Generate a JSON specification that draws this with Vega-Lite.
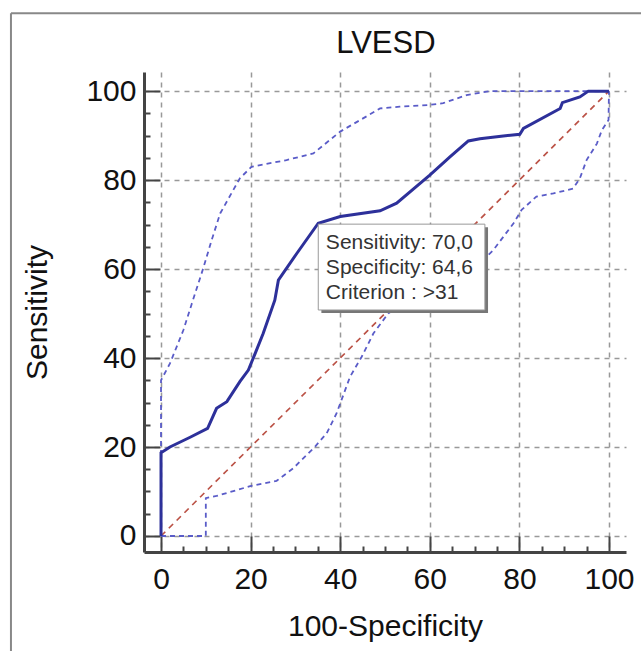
{
  "$schema": "https://vega.github.io/schema/vega-lite/v6.json",
  "autosize": "none",
  "width": 482,
  "height": 480,
  "padding": {"left": 144, "top": 72, "right": 15, "bottom": 99},
  "background": "white",
  "datasets": {
    "roc": [
      {"i": 0, "fpr": 0, "sens": 0},
      {"i": 1, "fpr": 0, "sens": 18.7},
      {"i": 2, "fpr": 2.0, "sens": 20.0},
      {"i": 3, "fpr": 6.5, "sens": 22.2},
      {"i": 4, "fpr": 10.4, "sens": 24.2},
      {"i": 5, "fpr": 12.4, "sens": 28.7},
      {"i": 6, "fpr": 14.7, "sens": 30.2},
      {"i": 7, "fpr": 17.6, "sens": 34.7},
      {"i": 8, "fpr": 19.5, "sens": 37.3},
      {"i": 9, "fpr": 21.0, "sens": 41.0},
      {"i": 10, "fpr": 22.8, "sens": 45.5},
      {"i": 11, "fpr": 25.4, "sens": 53.0},
      {"i": 12, "fpr": 26.2, "sens": 57.5},
      {"i": 13, "fpr": 30.3, "sens": 63.5},
      {"i": 14, "fpr": 35.1, "sens": 70.3},
      {"i": 15, "fpr": 40.0, "sens": 71.8},
      {"i": 16, "fpr": 48.9, "sens": 73.1},
      {"i": 17, "fpr": 52.6, "sens": 74.8},
      {"i": 18, "fpr": 60.0, "sens": 81.1},
      {"i": 19, "fpr": 64.5, "sens": 85.2},
      {"i": 20, "fpr": 68.6, "sens": 88.8},
      {"i": 21, "fpr": 71.2, "sens": 89.3},
      {"i": 22, "fpr": 76.4, "sens": 89.9},
      {"i": 23, "fpr": 80.1, "sens": 90.3},
      {"i": 24, "fpr": 80.9, "sens": 91.6},
      {"i": 25, "fpr": 89.1, "sens": 96.1},
      {"i": 26, "fpr": 89.6, "sens": 97.4},
      {"i": 27, "fpr": 93.5, "sens": 98.7},
      {"i": 28, "fpr": 95.4, "sens": 100},
      {"i": 29, "fpr": 100, "sens": 100}
    ],
    "upper": [
      {"i": 0, "fpr": 0, "sens": 0},
      {"i": 1, "fpr": 0, "sens": 35.0},
      {"i": 2, "fpr": 2.0, "sens": 38.8},
      {"i": 3, "fpr": 5.0, "sens": 46.3},
      {"i": 4, "fpr": 6.8, "sens": 52.0},
      {"i": 5, "fpr": 9.4, "sens": 60.1},
      {"i": 6, "fpr": 11.3, "sens": 66.5},
      {"i": 7, "fpr": 13.2, "sens": 72.5},
      {"i": 8, "fpr": 17.6, "sens": 80.4},
      {"i": 9, "fpr": 20.2, "sens": 83.0},
      {"i": 10, "fpr": 28.0, "sens": 84.5},
      {"i": 11, "fpr": 34.0, "sens": 86.0},
      {"i": 12, "fpr": 40.0, "sens": 90.9},
      {"i": 13, "fpr": 48.9, "sens": 96.1},
      {"i": 14, "fpr": 53.3, "sens": 96.5},
      {"i": 15, "fpr": 60.0, "sens": 96.9},
      {"i": 16, "fpr": 63.0, "sens": 97.3},
      {"i": 17, "fpr": 68.2, "sens": 99.1},
      {"i": 18, "fpr": 73.4, "sens": 100},
      {"i": 19, "fpr": 100, "sens": 100}
    ],
    "lower": [
      {"i": 0, "fpr": 0, "sens": 0},
      {"i": 1, "fpr": 10.0, "sens": 0},
      {"i": 2, "fpr": 10.0, "sens": 8.5},
      {"i": 3, "fpr": 12.4, "sens": 9.0},
      {"i": 4, "fpr": 19.9, "sens": 11.2},
      {"i": 5, "fpr": 25.8, "sens": 12.4},
      {"i": 6, "fpr": 29.5, "sens": 15.2},
      {"i": 7, "fpr": 34.4, "sens": 20.1},
      {"i": 8, "fpr": 37.0, "sens": 23.1},
      {"i": 9, "fpr": 39.2, "sens": 27.6},
      {"i": 10, "fpr": 40.3, "sens": 30.6},
      {"i": 11, "fpr": 42.2, "sens": 35.8},
      {"i": 12, "fpr": 44.8, "sens": 40.3},
      {"i": 13, "fpr": 47.4, "sens": 45.5},
      {"i": 14, "fpr": 50.7, "sens": 50.0},
      {"i": 15, "fpr": 56.0, "sens": 53.5},
      {"i": 16, "fpr": 62.0, "sens": 56.5},
      {"i": 17, "fpr": 68.0, "sens": 59.5},
      {"i": 18, "fpr": 72.7, "sens": 62.8},
      {"i": 19, "fpr": 74.2, "sens": 64.3},
      {"i": 20, "fpr": 78.7, "sens": 70.3},
      {"i": 21, "fpr": 80.5, "sens": 73.3},
      {"i": 22, "fpr": 83.8, "sens": 76.3},
      {"i": 23, "fpr": 87.6, "sens": 77.0},
      {"i": 24, "fpr": 92.0, "sens": 78.1},
      {"i": 25, "fpr": 93.5, "sens": 80.4},
      {"i": 26, "fpr": 95.0, "sens": 84.5},
      {"i": 27, "fpr": 97.3, "sens": 88.2},
      {"i": 28, "fpr": 98.4, "sens": 91.2},
      {"i": 29, "fpr": 99.9, "sens": 93.5},
      {"i": 30, "fpr": 100, "sens": 100}
    ]
  },
  "encoding": {
    "x": {
      "type": "quantitative",
      "scale": {"domain": [-3.8, 103.8], "nice": false, "zero": false},
      "axis": {
        "title": "100-Specificity",
        "values": [0, 5, 10, 15, 20, 25, 30, 35, 40, 45, 50, 55, 60, 65, 70, 75, 80, 85, 90, 95, 100],
        "labelExpr": "datum.value % 20 === 0 ? datum.label : ''",
        "labelFont": "Liberation Sans",
        "labelFontSize": 30,
        "labelColor": "#111",
        "labelPadding": 28,
        "labelFlush": false,
        "labelOverlap": false,
        "domainColor": "#444",
        "domainWidth": 3,
        "tickColor": "#444",
        "tickWidth": 2,
        "tickSize": {"condition": {"test": "datum.value % 20 === 0", "value": -16}, "value": -6},
        "grid": true,
        "gridColor": "#999",
        "gridDash": [5, 5],
        "gridWidth": 1.5,
        "gridOpacity": {"condition": {"test": "datum.value % 20 === 0", "value": 1}, "value": 0},
        "titleFont": "Liberation Sans",
        "titleFontSize": 30,
        "titleFontWeight": "normal",
        "titleColor": "#111",
        "titlePadding": 7
      }
    },
    "y": {
      "type": "quantitative",
      "scale": {"domain": [-3.6, 104.3], "nice": false, "zero": false},
      "axis": {
        "title": "Sensitivity",
        "values": [0, 5, 10, 15, 20, 25, 30, 35, 40, 45, 50, 55, 60, 65, 70, 75, 80, 85, 90, 95, 100],
        "labelExpr": "datum.value % 20 === 0 ? datum.label : ''",
        "labelFont": "Liberation Sans",
        "labelFontSize": 30,
        "labelColor": "#111",
        "labelPadding": 24,
        "labelFlush": false,
        "labelOverlap": false,
        "domainColor": "#444",
        "domainWidth": 3,
        "tickColor": "#444",
        "tickWidth": 2,
        "tickSize": {"condition": {"test": "datum.value % 20 === 0", "value": -16}, "value": -6},
        "grid": true,
        "gridColor": "#999",
        "gridDash": [5, 5],
        "gridWidth": 1.5,
        "gridOpacity": {"condition": {"test": "datum.value % 20 === 0", "value": 1}, "value": 0},
        "titleFont": "Liberation Sans",
        "titleFontSize": 30,
        "titleFontWeight": "normal",
        "titleColor": "#111",
        "titlePadding": 33
      }
    }
  },
  "layer": [
    {
      "data": {"values": [{"x": -33.5, "y": -30, "x2": -33.5, "y2": 117.5}, {"x": -33.5, "y": 117.5, "x2": 130, "y2": 117.5}]},
      "mark": {"type": "rule", "color": "#888", "strokeWidth": 2},
      "encoding": {
        "x": {"field": "x", "type": "quantitative"},
        "x2": {"field": "x2"},
        "y": {"field": "y", "type": "quantitative"},
        "y2": {"field": "y2"}
      }
    },
    {
      "data": {"values": [{"x": 50.2, "y": 110.6, "label": "LVESD"}]},
      "mark": {"type": "text", "align": "center", "baseline": "middle", "font": "Liberation Sans", "fontSize": 31, "color": "#111"},
      "encoding": {
        "x": {"field": "x", "type": "quantitative"},
        "y": {"field": "y", "type": "quantitative"},
        "text": {"field": "label"}
      }
    },
    {
      "data": {"values": [{"x": 0, "y": 0, "x2": 100, "y2": 100}]},
      "mark": {"type": "rule", "color": "#bb5246", "strokeWidth": 1.7, "strokeDash": [6, 5]},
      "encoding": {
        "x": {"field": "x", "type": "quantitative"},
        "x2": {"field": "x2"},
        "y": {"field": "y", "type": "quantitative"},
        "y2": {"field": "y2"}
      }
    },
    {
      "data": {"name": "upper"},
      "mark": {"type": "line", "color": "#5a5cc8", "strokeWidth": 1.8, "strokeDash": [5, 4]},
      "encoding": {
        "x": {"field": "fpr", "type": "quantitative"},
        "y": {"field": "sens", "type": "quantitative"},
        "order": {"field": "i"}
      }
    },
    {
      "data": {"name": "lower"},
      "mark": {"type": "line", "color": "#5a5cc8", "strokeWidth": 1.8, "strokeDash": [5, 4]},
      "encoding": {
        "x": {"field": "fpr", "type": "quantitative"},
        "y": {"field": "sens", "type": "quantitative"},
        "order": {"field": "i"}
      }
    },
    {
      "data": {"name": "roc"},
      "mark": {"type": "line", "color": "#2d309a", "strokeWidth": 3},
      "encoding": {
        "x": {"field": "fpr", "type": "quantitative"},
        "y": {"field": "sens", "type": "quantitative"},
        "order": {"field": "i"}
      }
    },
    {
      "data": {"values": [{"x": 35.8, "x2": 73.0, "y": 69.4, "y2": 50.1}]},
      "mark": {"type": "rect", "color": "#777"},
      "encoding": {
        "x": {"field": "x", "type": "quantitative"},
        "x2": {"field": "x2"},
        "y": {"field": "y", "type": "quantitative"},
        "y2": {"field": "y2"}
      }
    },
    {
      "data": {"values": [{"x": 35.1, "x2": 72.3, "y": 70.1, "y2": 50.8}]},
      "mark": {"type": "rect", "fill": "white", "stroke": "#999", "strokeWidth": 1},
      "encoding": {
        "x": {"field": "x", "type": "quantitative"},
        "x2": {"field": "x2"},
        "y": {"field": "y", "type": "quantitative"},
        "y2": {"field": "y2"}
      }
    },
    {
      "data": {"values": [
        {"x": 36.8, "y": 68.3, "label": "Sensitivity: 70,0"},
        {"x": 36.8, "y": 62.7, "label": "Specificity: 64,6"},
        {"x": 36.8, "y": 57.1, "label": "Criterion : >31"}
      ]},
      "mark": {"type": "text", "align": "left", "baseline": "top", "font": "Liberation Sans", "fontSize": 21, "color": "#333"},
      "encoding": {
        "x": {"field": "x", "type": "quantitative"},
        "y": {"field": "y", "type": "quantitative"},
        "text": {"field": "label"}
      }
    }
  ],
  "config": {"view": {"stroke": null}}
}
